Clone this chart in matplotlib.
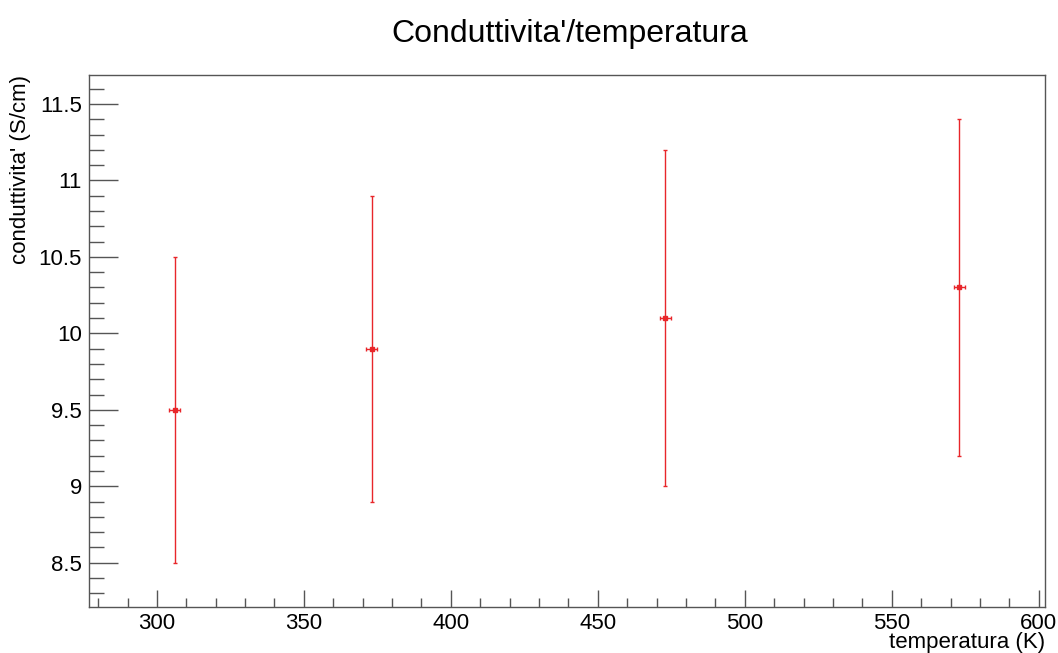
import matplotlib
matplotlib.use('Agg')
import matplotlib.pyplot as plt
from matplotlib.ticker import MultipleLocator

# Data (ROOT TGraphErrors)
temperature = [306, 373, 473, 573]
temp_err = [2, 2, 2, 2]
conductivity = [9.5, 9.9, 10.1, 10.3]
cond_err = [1.0, 1.0, 1.1, 1.1]

plt.rcParams['font.family'] = ['Liberation Sans', 'DejaVu Sans']

fig = plt.figure(figsize=(10.58, 6.53), dpi=100)
ax = fig.add_axes([89 / 1058, 46 / 653, 956 / 1058, 532 / 653])

ax.errorbar(temperature, conductivity, xerr=temp_err, yerr=cond_err,
            fmt='s', color='#e8262a', ecolor='#e8262a', markersize=2.5,
            elinewidth=1.0, capsize=1.5, capthick=1.0)

ax.set_xlim(276.9, 602.1)
ax.set_ylim(8.21, 11.69)

ax.xaxis.set_major_locator(MultipleLocator(50))
ax.xaxis.set_minor_locator(MultipleLocator(10))
ax.yaxis.set_major_locator(MultipleLocator(0.5))
ax.yaxis.set_minor_locator(MultipleLocator(0.1))
ax.yaxis.set_major_formatter(plt.FuncFormatter(lambda v, p: f'{v:g}'))

# tick lengths in points (px * 0.72)
ax.tick_params(which='both', direction='in', top=False, right=False,
               color='#555555', width=1.0, labelsize=16)
ax.tick_params(axis='x', which='major', length=12.2, pad=4)
ax.tick_params(axis='x', which='minor', length=6.5)
ax.tick_params(axis='y', which='major', length=20.9, pad=5)
ax.tick_params(axis='y', which='minor', length=10.8)
for s in ax.spines.values():
    s.set_color('#555555')
    s.set_linewidth(1.0)

fig.text(570 / 1058, 1 - 42 / 653, "Conduttivita'/temperatura", ha='center',
         va='baseline', fontsize=23)
fig.text(1045 / 1058, 5 / 653, "temperatura (K)", ha='right', va='baseline',
         fontsize=16)
fig.text(21 / 1058, 1 - 75 / 653, "conduttivita' (S/cm)", ha='center', va='top',
         rotation=90, fontsize=16)

plt.savefig('out.png', dpi=100)
